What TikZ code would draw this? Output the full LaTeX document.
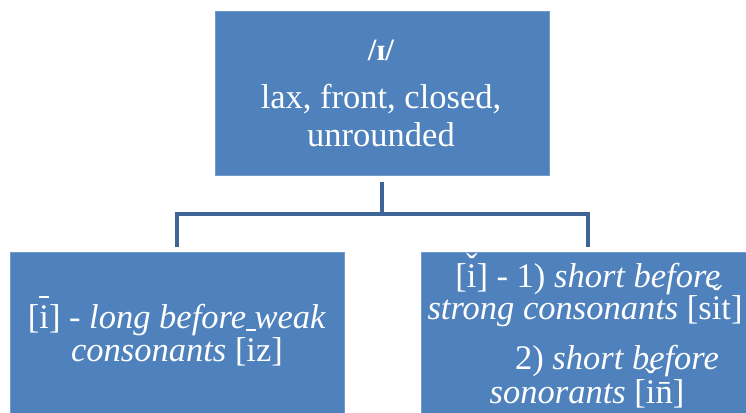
\documentclass[tikz,border=0pt]{standalone}
\usepackage{fontspec}
\setmainfont{Liberation Serif}
\definecolor{boxblue}{HTML}{4F81BD}
\definecolor{lineblue}{HTML}{3D6696}
\newcommand{\imac}{\rlap{\hbox to 0.278em{\hss\rule[0.9em]{0.3em}{0.045em}\hss}}i}
\newcommand{\icar}{\rlap{\hbox to 0.278em{\hss\raisebox{0.3em}{ˇ}\hss}}i}
\begin{document}
\begin{tikzpicture}[x=1pt,y=1pt,
  box/.style={fill=boxblue, draw=boxblue!80!white, line width=0.6pt, inner sep=0pt, anchor=north west},
  txt/.style={text=white, anchor=base, inner sep=0pt, font=\fontsize{34.5}{40}\selectfont},
  conn/.style={draw=lineblue, line width=4pt}]
\useasboundingbox (0,0) rectangle (746,412);
\clip (0,0) rectangle (746,412);
\fill[white] (0,0) rectangle (746,412);
% boxes
\node[box, minimum width=334pt, minimum height=164pt] (top) at (215,401) {};
\node[box, minimum width=334pt, minimum height=180pt] (left) at (10,160) {};
\node[box, minimum width=334pt, minimum height=180pt] (right) at (421,160) {};
% connectors
\draw[conn] ([yshift=-6pt]top.south) -- ([yshift=-38pt]top.south);
\draw[conn] ([yshift=5pt]left.north) |- ([yshift=-38pt]top.south) -| ([yshift=5pt]right.north);
% top text
\node[txt, font=\fontsize{31}{36}\selectfont\bfseries] (t1) at (381,351) {/ɪ/};
\node[txt] (t2) at (381,303) {lax, front, closed,};
\node[txt] (t3) at (381,265) {unrounded};
% left text
\node[txt] (l1) at (177,83) {[\imac] - \textit{long before weak}};
\node[txt] (l2) at (177,50) {\textit{consonants} [\imac z]};
% right text
\node[txt] (r1) at (588,124) {[\icar] - 1) \textit{short before}};
\node[txt] (r2) at (585,92) {\textit{strong consonants} [s\icar t]};
\node[txt] (r3) at (617,42) {2) \textit{short before}};
\node[txt] (r4) at (587,9) {\textit{sonorants} [\icar n̄]};
\end{tikzpicture}
\end{document}
